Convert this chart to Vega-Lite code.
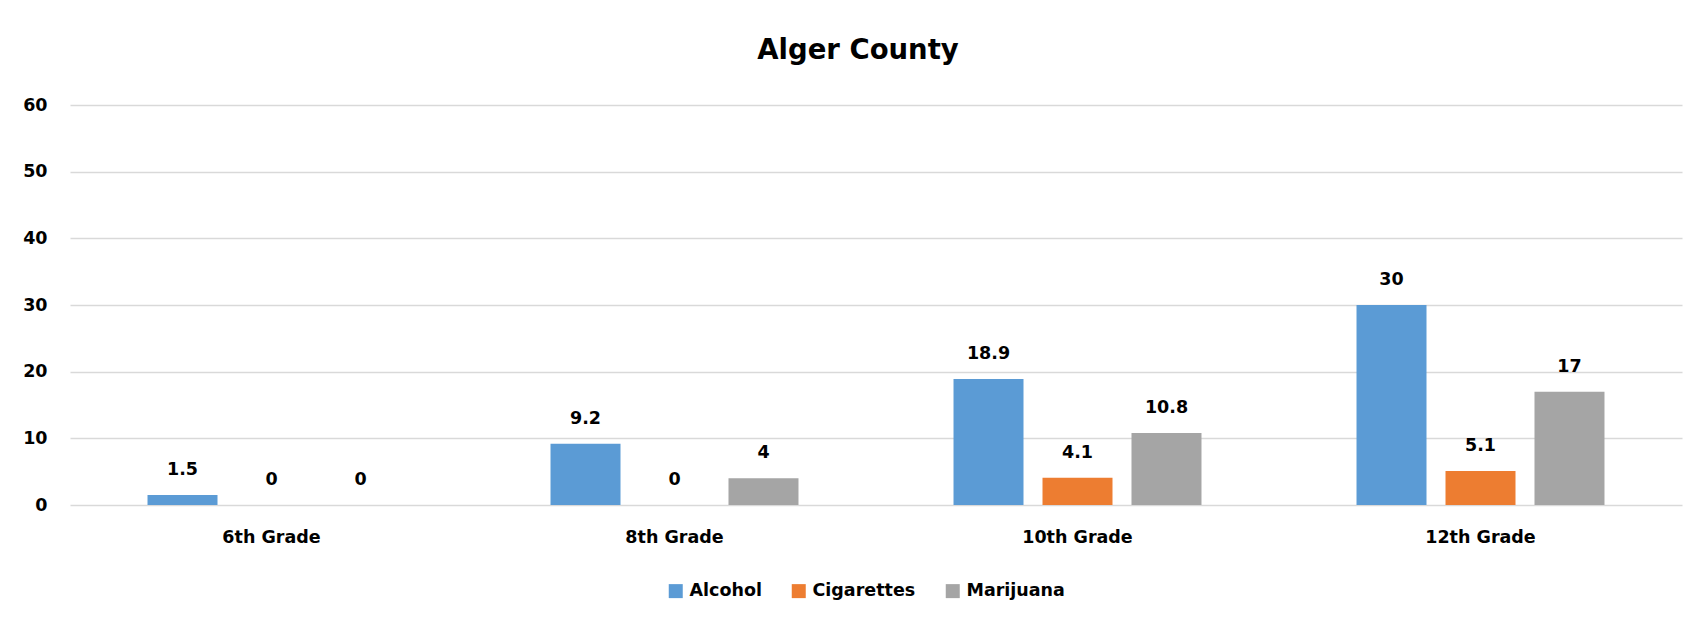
{
  "$schema": "https://vega.github.io/schema/vega-lite/v6.json",
  "width": 1612,
  "height": 400,
  "autosize": {"type": "none"},
  "padding": {"left": 70, "top": 105, "right": 23, "bottom": 121},
  "background": "white",
  "config": {"view": {"stroke": null}},
  "title": {
    "text": "Alger County",
    "font": "DejaVu Sans",
    "fontSize": 27.5,
    "fontWeight": "bold",
    "color": "#000000",
    "anchor": "middle",
    "baseline": "alphabetic",
    "offset": 10,
    "dx": -18
  },
  "data": {
    "values": [
      {"grade": "6th Grade", "category": "Alcohol", "value": 1.5},
      {"grade": "6th Grade", "category": "Cigarettes", "value": 0},
      {"grade": "6th Grade", "category": "Marijuana", "value": 0},
      {"grade": "8th Grade", "category": "Alcohol", "value": 9.2},
      {"grade": "8th Grade", "category": "Cigarettes", "value": 0},
      {"grade": "8th Grade", "category": "Marijuana", "value": 4},
      {"grade": "10th Grade", "category": "Alcohol", "value": 18.9},
      {"grade": "10th Grade", "category": "Cigarettes", "value": 4.1},
      {"grade": "10th Grade", "category": "Marijuana", "value": 10.8},
      {"grade": "12th Grade", "category": "Alcohol", "value": 30},
      {"grade": "12th Grade", "category": "Cigarettes", "value": 5.1},
      {"grade": "12th Grade", "category": "Marijuana", "value": 17}
    ]
  },
  "encoding": {
    "x": {
      "field": "grade",
      "type": "nominal",
      "sort": ["6th Grade", "8th Grade", "10th Grade", "12th Grade"],
      "scale": {"paddingInner": 0, "paddingOuter": 0},
      "axis": {
        "title": null,
        "labelAngle": 0,
        "ticks": false,
        "domain": false,
        "grid": false,
        "labelFont": "DejaVu Sans",
        "labelFontSize": 17.5,
        "labelFontWeight": "bold",
        "labelColor": "#000000",
        "labelPadding": 23
      }
    },
    "xOffset": {
      "field": "category",
      "type": "nominal",
      "sort": ["Alcohol", "Cigarettes", "Marijuana"],
      "scale": {"paddingInner": 0.2135, "paddingOuter": 0.871}
    },
    "y": {
      "field": "value",
      "type": "quantitative",
      "scale": {"domain": [0, 60], "nice": false},
      "axis": {
        "title": null,
        "values": [0, 10, 20, 30, 40, 50, 60],
        "domain": false,
        "ticks": false,
        "grid": true,
        "gridColor": "#d9d9d9",
        "gridWidth": 1.5,
        "labelFont": "DejaVu Sans",
        "labelFontSize": 17.5,
        "labelFontWeight": "bold",
        "labelColor": "#000000",
        "labelPadding": 23
      }
    }
  },
  "layer": [
    {
      "mark": {"type": "bar"},
      "encoding": {
        "color": {
          "field": "category",
          "type": "nominal",
          "scale": {
            "domain": ["Alcohol", "Cigarettes", "Marijuana"],
            "range": ["#5B9BD5", "#ED7D31", "#A5A5A5"]
          },
          "legend": {
            "title": null,
            "orient": "none",
            "direction": "horizontal",
            "legendX": 597,
            "legendY": 477,
            "symbolType": "square",
            "symbolSize": 196,
            "symbolStrokeWidth": 0,
            "labelFont": "DejaVu Sans",
            "labelFontSize": 17.5,
            "labelFontWeight": "bold",
            "labelColor": "#000000",
            "labelOffset": 5,
            "columnPadding": 28
          }
        }
      }
    },
    {
      "mark": {
        "type": "text",
        "baseline": "middle",
        "dy": -25,
        "font": "DejaVu Sans",
        "fontSize": 17.5,
        "fontWeight": "bold",
        "color": "#000000"
      },
      "encoding": {
        "text": {"field": "value", "type": "quantitative"}
      }
    }
  ]
}
